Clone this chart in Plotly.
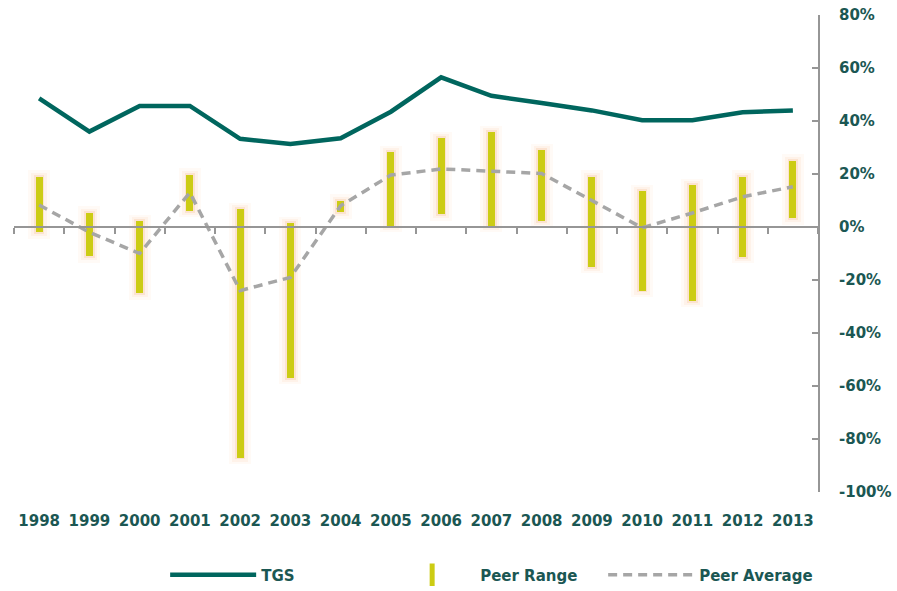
import plotly.graph_objects as go

years = ["1998", "1999", "2000", "2001", "2002", "2003", "2004", "2005",
         "2006", "2007", "2008", "2009", "2010", "2011", "2012", "2013"]
tgs = [48.5, 36, 45.7, 45.7, 33.3, 31.3, 33.5, 43.5, 56.5, 49.5, 46.8, 44, 40.3, 40.3, 43.3, 44]
peer_high = [19, 5.4, 2.3, 19.7, 6.8, 1.5, 9.9, 28.2, 33.5, 35.8, 29, 19, 13.6, 15.8, 19, 25]
peer_low = [-2, -11, -25, 6, -87, -57, 5.5, 0.5, 4.8, 0.4, 2.4, -15, -24, -27.8, -11.2, 3.3]
peer_avg = [8.3, -2, -10, 13, -24, -19, 8, 19.6, 21.9, 21, 20.2, 10, -0.3, 5.3, 11.4, 15.2]
y_ticks = [80, 60, 40, 20, 0, -20, -40, -60, -80, -100]
y_tick_labels = ["80%", "60%", "40%", "20%", "0%", "-20%", "-40%", "-60%", "-80%", "-100%"]

TEAL = "#00665e"
YELLOW = "#cccc14"
GRAY = "#a6a6a6"
AXIS = "#969696"
TXT = "#1b5753"
FONT = "DejaVu Sans"

fig = go.Figure()

# soft glow layers behind the range bars
for w, pad, col in [(0.44, 2.4, "rgba(252,205,170,0.10)"),
                    (0.32, 1.5, "rgba(250,190,150,0.13)"),
                    (0.21, 0.7, "rgba(245,170,110,0.20)")]:
    fig.add_trace(go.Bar(
        x=years, y=[h - l + 2 * pad for h, l in zip(peer_high, peer_low)],
        base=[l - pad for l in peer_low], width=w,
        marker=dict(color=col, line=dict(width=0)),
        showlegend=False, hoverinfo="skip"))

fig.add_trace(go.Bar(
    x=years, y=[h - l for h, l in zip(peer_high, peer_low)], base=peer_low,
    width=0.14, marker=dict(color=YELLOW, line=dict(width=0)),
    name="Peer Range", showlegend=False))

fig.add_trace(go.Scatter(
    x=years, y=tgs, mode="lines", name="TGS",
    line=dict(color=TEAL, width=4.5)))

fig.add_trace(go.Scatter(
    x=[None], y=[None], mode="markers", name="Peer Range",
    marker=dict(symbol="line-ns", size=16, line=dict(color=YELLOW, width=5))))

fig.add_trace(go.Scatter(
    x=years, y=peer_avg, mode="lines", name="Peer Average", xaxis="x2",
    line=dict(color=GRAY, width=3.5, dash="9px,6px")))

fig.update_layout(
    width=897, height=591,
    margin=dict(l=14, r=79, t=15, b=99),
    plot_bgcolor="white", paper_bgcolor="white",
    barmode="overlay", bargap=0,
    font=dict(family=FONT, color=TXT, size=15),
    xaxis=dict(type="category", categoryarray=years, range=[-0.5, 15.5],
               showline=False, showgrid=False, zeroline=False, ticks="",
               automargin=False,
               tickfont=dict(family=FONT, size=15, color=TXT, weight="bold"),
               ticklabelstandoff=18),
    xaxis2=dict(type="category", categoryarray=years, matches="x", overlaying="x",
                anchor="free", position=100 / 180, side="bottom", automargin=False,
                showline=True, linecolor=AXIS, linewidth=2,
                ticks="outside", tickson="boundaries", ticklen=6, tickwidth=2,
                tickcolor=AXIS, showticklabels=False, showgrid=False, zeroline=False),
    yaxis=dict(range=[-100, 80], side="right", tickmode="array",
               tickvals=y_ticks, ticktext=y_tick_labels, automargin=False,
               showline=True, linecolor=AXIS, linewidth=2,
               ticks="inside", ticklen=6, tickwidth=2, tickcolor=AXIS,
               showgrid=False, zeroline=False, ticklabelstandoff=16,
               tickfont=dict(family=FONT, size=15, color=TXT, weight="bold")),
    legend=dict(orientation="h", x=0.188, xanchor="left",
                yref="container", y=0.027, yanchor="middle",
                itemwidth=86, entrywidth=118, entrywidthmode="pixels",
                font=dict(family=FONT, size=15, color=TXT, weight="bold"),
                traceorder="normal", bgcolor="rgba(0,0,0,0)"),
)

fig.write_html("out.html")
